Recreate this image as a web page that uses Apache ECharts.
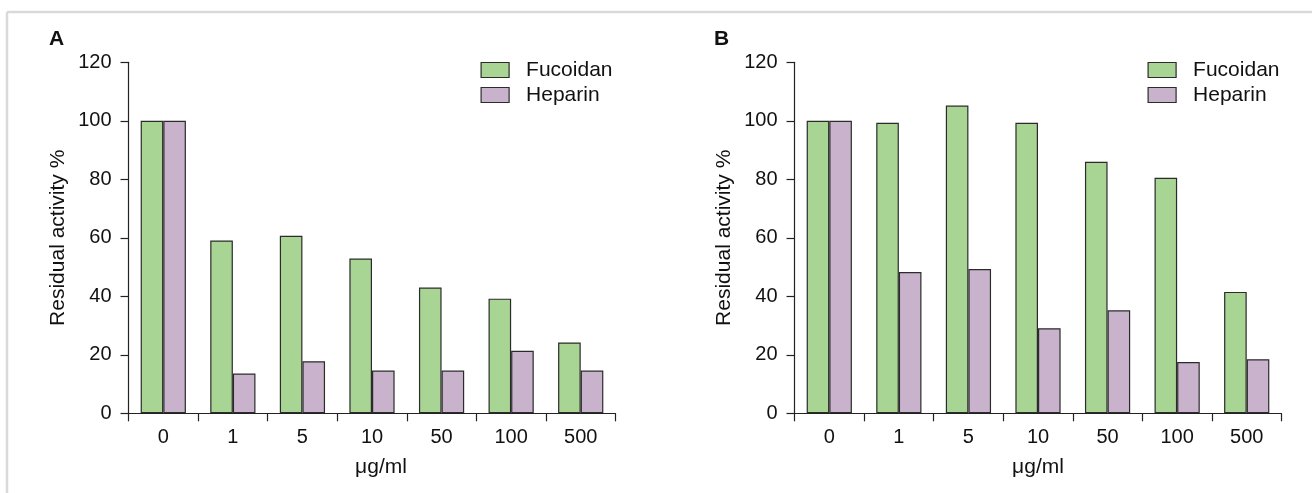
<!DOCTYPE html>
<html>
<head>
<meta charset="utf-8">
<script src="https://cdn.jsdelivr.net/npm/echarts@6/dist/echarts.min.js"></script>
<style>
html,body{margin:0;padding:0;background:#fff;}
#chart{width:1312px;height:493px;}
</style>
</head>
<body>
<div id="chart"></div>
<script>
const categories = ['0', '1', '5', '10', '50', '100', '500'];
const fucoidanA = [100, 59.1, 60.7, 52.9, 43.0, 39.2, 24.2];
const heparinA = [100, 13.6, 17.8, 14.6, 14.6, 21.4, 14.6];
const fucoidanB = [100, 99.3, 105.2, 99.3, 86.0, 80.5, 41.5];
const heparinB = [100, 48.3, 49.3, 29.1, 35.2, 17.5, 18.5];
const yTicks = { min: 0, max: 120, interval: 20 };
const seriesNames = ['Fucoidan', 'Heparin'];
const xName = 'μg/ml';
const yName = 'Residual activity %';

const FONT = 'Liberation Sans, Arial, sans-serif';
const TXT = '#111';
const GREEN = '#a8d594';
const PURPLE = '#c9b3cc';

const chart = echarts.init(document.getElementById('chart'), null, { renderer: 'canvas' });

function xAxis(gridIndex, namePad) {
  return {
    type: 'category', gridIndex, data: categories, boundaryGap: true,
    name: xName, nameLocation: 'middle', nameGap: 43,
    nameTextStyle: { fontFamily: FONT, fontSize: 21, color: TXT, padding: namePad },
    axisLine: { show: true, lineStyle: { color: '#222', width: 1.2 } },
    axisTick: { show: true, inside: false, length: 8, alignWithLabel: false, lineStyle: { color: '#222', width: 1.2 } },
    axisLabel: { fontFamily: FONT, fontSize: 20, color: TXT, margin: 14 },
    splitLine: { show: false }
  };
}
function yAxis(gridIndex) {
  return {
    type: 'value', gridIndex, min: yTicks.min, max: yTicks.max, interval: yTicks.interval,
    name: yName, nameLocation: 'middle', nameGap: 60,
    nameTextStyle: { fontFamily: FONT, fontSize: 21, color: TXT },
    axisLine: { show: true, lineStyle: { color: '#222', width: 1.2 } },
    axisTick: { show: true, inside: false, length: 8, lineStyle: { color: '#222', width: 1.2 } },
    axisLabel: { fontFamily: FONT, fontSize: 20, color: TXT, margin: 17 },
    splitLine: { show: false }
  };
}
function bar(name, data, idx, color) {
  return {
    type: 'bar', name, data, xAxisIndex: idx, yAxisIndex: idx,
    barGap: '0%', barCategoryGap: '35%',
    itemStyle: { color, borderColor: '#2b2b2b', borderWidth: 1.2 },
    emphasis: { disabled: true }, animation: false
  };
}
function legend(left) {
  return {
    orient: 'vertical', left, top: 59.5, padding: 0,
    itemWidth: 28, itemHeight: 15, itemGap: 4, icon: 'rect',
    data: seriesNames,
    textStyle: { fontFamily: FONT, fontSize: 21, color: TXT, lineHeight: 20, padding: [0, 0, 0, 12] },
    itemStyle: { borderColor: '#2b2b2b', borderWidth: 1.2 },
    selectedMode: false
  };
}

chart.setOption({
  animation: false,
  backgroundColor: '#fff',
  grid: [
    { left: 128.5, top: 62.3, width: 487, height: 351, containLabel: false },
    { left: 794.5, top: 62.3, width: 487, height: 351, containLabel: false }
  ],
  xAxis: [xAxis(0, [0, 0, 0, 18]), xAxis(1, [0, 0, 0, 0])],
  yAxis: [yAxis(0), yAxis(1)],
  legend: [legend(480.5), legend(1147.5)],
  series: [
    bar('Fucoidan', fucoidanA, 0, GREEN),
    bar('Heparin', heparinA, 0, PURPLE),
    bar('Fucoidan', fucoidanB, 1, GREEN),
    bar('Heparin', heparinB, 1, PURPLE)
  ],
  graphic: [
    { type: 'line', shape: { x1: 7, y1: 12, x2: 1312, y2: 12 }, style: { stroke: '#d9d9d9', lineWidth: 2.5 }, silent: true },
    { type: 'line', shape: { x1: 7, y1: 12, x2: 7, y2: 493 }, style: { stroke: '#d9d9d9', lineWidth: 2.5 }, silent: true },
    { type: 'text', left: 49, top: 29, style: { text: 'A', font: 'bold 21px ' + FONT, fill: TXT }, silent: true },
    { type: 'text', left: 714, top: 29, style: { text: 'B', font: 'bold 21px ' + FONT, fill: TXT }, silent: true }
  ]
});
</script>
</body>
</html>
